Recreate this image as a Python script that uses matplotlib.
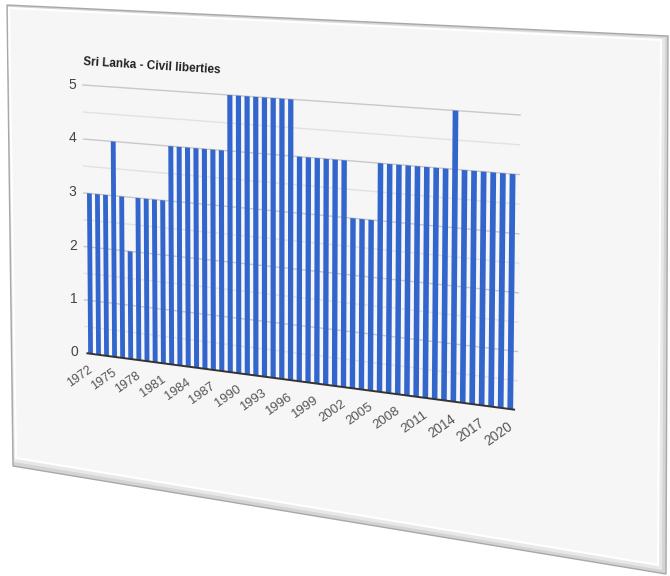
import matplotlib as mpl
import matplotlib.pyplot as plt
import numpy as np
from matplotlib.patches import Polygon
from matplotlib.transforms import Transform

# ---- data ----
years = list(range(1972, 2021))
civil_liberties = [3, 3, 3, 4, 3, 2, 3, 3, 3, 3,
                   4, 4, 4, 4, 4, 4, 4,
                   5, 5, 5, 5, 5, 5, 5, 5,
                   4, 4, 4, 4, 4, 4,
                   3, 3, 3,
                   4, 4, 4, 4, 4, 4, 4, 4,
                   5,
                   4, 4, 4, 4, 4, 4]
tick_years = years[::3]
y_ticks = [0, 1, 2, 3, 4, 5]
title = "Sri Lanka - Civil liberties"

mpl.rcParams["font.family"] = ["Liberation Sans", "DejaVu Sans"]

BLUE = "#3366cc"
CARD = "#f6f6f6"


class Perspective(Transform):
    """Plain 3x3 homography, so the flat chart looks like a tilted card."""
    input_dims = output_dims = 2
    is_separable = False
    has_inverse = True

    def __init__(self, H):
        super().__init__()
        self.H = np.asarray(H, float)

    def transform_non_affine(self, values):
        v = np.asarray(values, float).reshape(-1, 2)
        p = np.column_stack([v, np.ones(len(v))]) @ self.H.T
        return p[:, :2] / p[:, 2:3]

    def inverted(self):
        return Perspective(np.linalg.inv(self.H))


def homography(src, dst):
    A, b = [], []
    for (x, y), (u, v) in zip(src, dst):
        A.append([x, y, 1, 0, 0, 0, -u * x, -u * y])
        b.append(u)
        A.append([0, 0, 0, x, y, 1, -v * x, -v * y])
        b.append(v)
    h = np.linalg.solve(np.array(A, float), np.array(b, float))
    return np.append(h, 1).reshape(3, 3)


n = len(years)
x_lo, x_hi = -0.7, n - 1 + 0.7
# plot-area corners in the picture (pixels, y down)
H = homography([(x_lo, 0), (x_hi, 0), (x_hi, 5), (x_lo, 5)],
               [(85, 353), (517, 410), (520, 115), (83, 85)])
persp = Perspective(H)

fig = plt.figure(figsize=(6.70, 5.76), dpi=100)
ax = fig.add_axes([0, 0, 1, 1])
ax.set_xlim(0, 670)
ax.set_ylim(576, 0)
ax.set_autoscale_on(False)
ax.axis("off")
chart = persp + ax.transData

# the tilted card behind the chart, with a soft bevel
ax.add_patch(Polygon([(7, 5), (668, 36), (666, 574), (13, 466)],
                     closed=True, facecolor="#d4d4d4", edgecolor="#a8a8a8", lw=1, zorder=0))
ax.add_patch(Polygon([(8, 7), (665, 38), (662, 570), (14, 462)],
                     closed=True, facecolor="#e8e8e8", edgecolor="none", zorder=0.3))
ax.add_patch(Polygon([(9, 8), (661, 40), (658, 565), (16, 458)],
                     closed=True, facecolor=CARD, edgecolor="white", lw=1.5, zorder=0.5))

# gridlines
for v in np.arange(0.5, 5.01, 0.5):
    major = float(v).is_integer()
    ax.plot([x_lo, x_hi], [v, v], transform=chart,
            color="#c8c8c8" if major else "#e2e2e2", lw=1.0, zorder=1)

ax.bar(range(n), civil_liberties, width=0.6, color=BLUE, transform=chart, zorder=3)
ax.plot([x_lo + 0.3, x_hi - 0.3], [0, 0], transform=chart, color="#333333", lw=1.4, zorder=4)


def unit_height(i):
    p = persp.transform([(i, 0), (i, 1)])
    return np.hypot(*(p[1] - p[0]))


ref = unit_height(0)

for t in y_ticks:
    ax.text(x_lo - 0.9, t, str(t), transform=chart, ha="right", va="center",
            fontsize=10, color="#444444")

for y in tick_years:
    i = years.index(y)
    ax.text(i + 0.1, -0.27, str(y), transform=chart, rotation=35,
            rotation_mode="anchor", ha="right", va="center",
            fontsize=9 * unit_height(i) / ref, color="#555555")

ax.text(x_lo, 5.42, title, transform=chart, rotation=-3.5, rotation_mode="anchor",
        ha="left", va="center", fontsize=8.5, fontweight="bold", color="#222222")

fig.savefig("out.png", dpi=100, facecolor="white")
